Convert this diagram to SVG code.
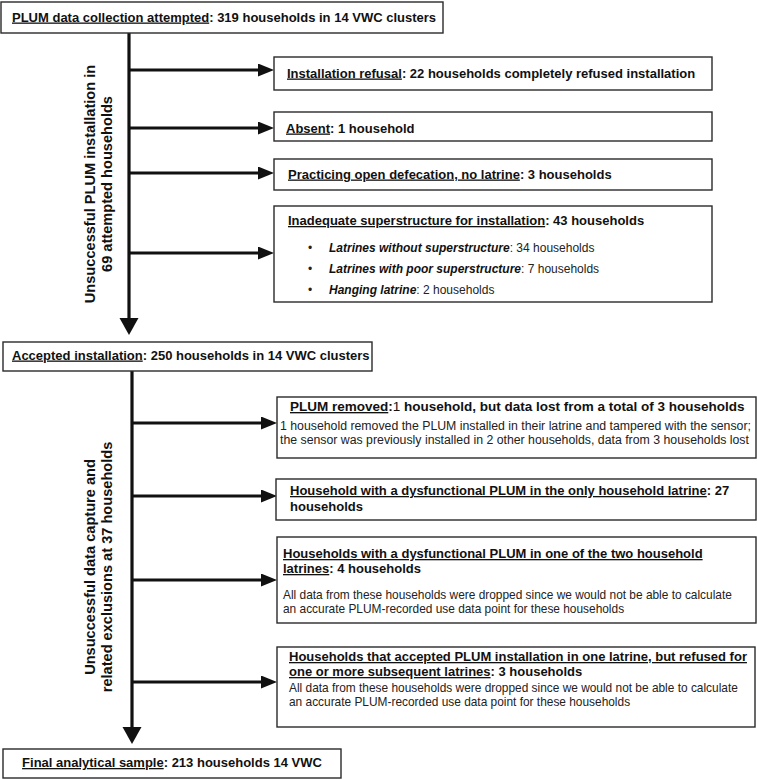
<svg xmlns="http://www.w3.org/2000/svg" width="757" height="779" viewBox="0 0 757 779">
<defs>
<style>
text{font-family:"Liberation Sans",Arial,Helvetica,sans-serif;fill:#111;}
.box{fill:#fff;stroke:#2a2a2a;stroke-width:1.4;}
.t{font-size:13px;font-weight:bold;}
.b{font-size:12.3px;fill:#222;}
.bs{font-size:11.9px;fill:#222;}
.bl{font-size:12px;fill:#222;}
.bi{font-weight:bold;font-style:italic;fill:#111;}
.u{text-decoration:underline;}
.n{font-weight:normal;}
.side{font-size:14.6px;font-weight:bold;}
.stem{stroke:#111;stroke-width:3.2;fill:none;}
.br{stroke:#111;stroke-width:2.8;fill:none;}
</style>
<marker id="ah" markerUnits="userSpaceOnUse" markerWidth="17" markerHeight="14" refX="0" refY="6.5" orient="auto">
<path d="M0,0 L16,6.5 L0,13 Z" fill="#111"/>
</marker>
<marker id="av" markerUnits="userSpaceOnUse" markerWidth="18" markerHeight="20" refX="0" refY="9.5" orient="auto">
<path d="M0,0 L17,9.5 L0,19 Z" fill="#111"/>
</marker>
</defs>
<rect width="757" height="779" fill="#fff"/>

<g id="connectors">
<line class="stem" x1="129" y1="33" x2="129" y2="318" marker-end="url(#av)"/>
<line class="br" x1="129" y1="70" x2="258" y2="70" marker-end="url(#ah)"/>
<line class="br" x1="129" y1="128" x2="258" y2="128" marker-end="url(#ah)"/>
<line class="br" x1="129" y1="173" x2="258" y2="173" marker-end="url(#ah)"/>
<line class="br" x1="129" y1="253" x2="258" y2="253" marker-end="url(#ah)"/>
<line class="stem" x1="132" y1="371" x2="132" y2="727" marker-end="url(#av)"/>
<line class="br" x1="132" y1="423" x2="261" y2="423" marker-end="url(#ah)"/>
<line class="br" x1="132" y1="496" x2="261" y2="496" marker-end="url(#ah)"/>
<line class="br" x1="132" y1="580" x2="261" y2="580" marker-end="url(#ah)"/>
<line class="br" x1="132" y1="682" x2="261" y2="682" marker-end="url(#ah)"/>
</g>

<g id="label1">
<text class="side" transform="translate(95,184) rotate(-90)" text-anchor="middle">Unsuccessful PLUM installation in</text>
<text class="side" transform="translate(112,184) rotate(-90)" text-anchor="middle">69 attempted households</text>
</g>
<g id="label2">
<text class="side" transform="translate(95,567) rotate(-90)" text-anchor="middle">Unsuccessful data capture and</text>
<text class="side" transform="translate(112,567) rotate(-90)" text-anchor="middle">related exclusions at 37 households</text>
</g>

<g id="n_attempted">
<rect class="box" x="1" y="2" width="442" height="31"/>
<text class="t" x="12" y="21.5"><tspan class="u">PLUM data collection attempted</tspan>: 319 households in 14 VWC clusters</text>
</g>

<g id="n_refusal">
<rect class="box" x="274" y="57" width="438" height="33"/>
<text class="t" x="287" y="77.5"><tspan class="u">Installation refusal</tspan>: 22 households completely refused installation</text>
</g>

<g id="n_absent">
<rect class="box" x="274" y="112" width="438" height="29"/>
<text class="t" x="286" y="132.5"><tspan class="u">Absent</tspan>: 1 household</text>
</g>

<g id="n_opendef">
<rect class="box" x="274" y="159" width="438" height="31"/>
<text class="t" x="288" y="178.5"><tspan class="u">Practicing open defecation, no latrine</tspan>: 3 households</text>
</g>

<g id="n_superstructure">
<rect class="box" x="274" y="206" width="438" height="96"/>
<text class="t" x="288" y="225"><tspan class="u">Inadequate superstructure for installation</tspan>: 43 households</text>
<text class="bl" x="308" y="251.5">•</text>
<text class="bl" x="329" y="251.5"><tspan class="bi">Latrines without superstructure</tspan>: 34 households</text>
<text class="bl" x="308" y="272.5">•</text>
<text class="bl" x="329" y="272.5"><tspan class="bi">Latrines with poor superstructure</tspan>: 7 households</text>
<text class="bl" x="308" y="294">•</text>
<text class="bl" x="329" y="294"><tspan class="bi">Hanging latrine</tspan>: 2 households</text>
</g>

<g id="n_accepted">
<rect class="box" x="3" y="342" width="369" height="29"/>
<text class="t" x="12" y="359.5"><tspan class="u">Accepted installation</tspan>: 250 households in 14 VWC clusters</text>
</g>

<g id="n_removed">
<rect class="box" x="277" y="397" width="479" height="61"/>
<text class="t" x="290" y="411" style="font-size:13.5px"><tspan class="u">PLUM removed</tspan>:<tspan class="n">1</tspan> household, but data lost from a total of 3 households</text>
<text class="b" x="280" y="430">1 household removed the PLUM installed in their latrine and tampered with the sensor;</text>
<text class="b" x="280" y="444">the sensor was previously installed in 2 other households, data from 3 households lost</text>
</g>

<g id="n_dysfunctional_only">
<rect class="box" x="276" y="479" width="480" height="41"/>
<text class="t" x="290" y="495"><tspan class="u">Household with a dysfunctional PLUM in the only household latrine</tspan>: 27</text>
<text class="t" x="290" y="511">households</text>
</g>

<g id="n_dysfunctional_one">
<rect class="box" x="277" y="537" width="479" height="86"/>
<text class="t" x="283" y="558"><tspan class="u">Households with a dysfunctional PLUM in one of the two household </tspan></text>
<text class="t" x="283" y="573"><tspan class="u">latrines</tspan>: 4 households</text>
<text class="bs" x="283" y="599">All data from these households were dropped since we would not be able to calculate</text>
<text class="bs" x="283" y="613">an accurate PLUM-recorded use data point for these households</text>
</g>

<g id="n_refused_subsequent">
<rect class="box" x="277" y="647" width="478" height="80"/>
<text class="t" x="289" y="661"><tspan class="u">Households that accepted PLUM installation in one latrine, but refused for</tspan></text>
<text class="t" x="289" y="676"><tspan class="u">one or more subsequent latrines</tspan>: 3 households</text>
<text class="bs" x="289" y="692">All data from these households were dropped since we would not be able to calculate</text>
<text class="bs" x="289" y="706">an accurate PLUM-recorded use data point for these households</text>
</g>

<g id="n_final">
<rect class="box" x="3" y="749" width="338" height="29"/>
<text class="t" x="172" y="767" text-anchor="middle"><tspan class="u">Final analytical sample</tspan>: 213 households 14 VWC</text>
</g>
</svg>
